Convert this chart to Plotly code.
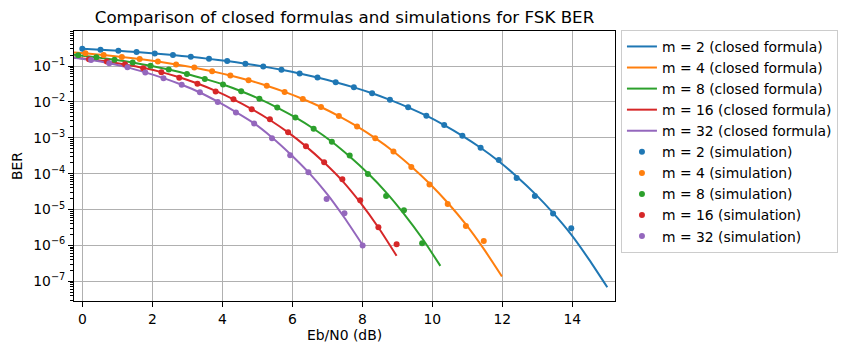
import plotly.graph_objects as go

# ---------------- data ----------------
COLORS = ["#1f77b4", "#ff7f0e", "#2ca02c", "#d62728", "#9467bd"]
M_VALUES = [2, 4, 8, 16, 32]

# closed-formula curves: Eb/N0 (dB) and BER
ebn0_m2 = [0.00, 0.52, 1.03, 1.55, 2.07, 2.59, 3.10, 3.62, 4.14, 4.66, 5.17, 5.69, 6.21, 6.72, 7.24,
           7.76, 8.28, 8.79, 9.31, 9.83, 10.34, 10.86, 11.38, 11.90, 12.41, 12.93, 13.45, 13.97, 14.48, 15.00]
ber_m2 = [0.303, 0.285, 0.265, 0.245, 0.2235, 0.202, 0.180, 0.158, 0.137, 0.116, 0.0966, 0.0784, 0.0621,
          0.0477, 0.0354, 0.0254, 0.0174, 0.0114, 0.00706, 0.00412, 0.00225, 0.00113, 5.26e-4, 2.21e-4,
          8.31e-5, 2.77e-5, 8.03e-6, 1.99e-6, 4.01e-7, 6.8e-8]

ebn0_m4 = [-0.42, 0.09, 0.61, 1.13, 1.64, 2.16, 2.68, 3.20, 3.71, 4.23, 4.75, 5.27, 5.78, 6.30, 6.82,
           7.33, 7.85, 8.37, 8.89, 9.40, 9.92, 10.44, 10.96, 11.47, 11.99]
ber_m4 = [0.2476, 0.2253, 0.2023, 0.179, 0.1556, 0.1328, 0.1107, 0.0901, 0.0711, 0.0544, 0.0400, 0.02822,
          0.01897, 0.01206, 0.00721, 0.00401, 0.00207, 9.75e-4, 4.16e-4, 1.584e-4, 5.31e-5, 1.546e-5,
          3.84e-6, 7.99e-7, 1.36e-7]

ebn0_m8 = [-0.63, -0.12, 0.40, 0.92, 1.44, 1.95, 2.47, 2.99, 3.50, 4.02, 4.54, 5.06, 5.57, 6.09, 6.61,
           7.13, 7.64, 8.16, 8.68, 9.19, 9.71, 10.23]
ber_m8 = [0.2255, 0.2004, 0.1749, 0.1495, 0.1248, 0.1013, 0.0796, 0.0602, 0.0437, 0.0305, 0.01979, 0.01216,
          0.00696, 0.00368, 0.00178, 7.72e-4, 2.99e-4, 1.02e-4, 3.02e-5, 7.58e-6, 1.58e-6, 2.69e-7]

ebn0_m16 = [-0.33, 0.19, 0.70, 1.22, 1.74, 2.26, 2.77, 3.29, 3.81, 4.32, 4.84, 5.36, 5.88, 6.39, 6.91,
            7.43, 7.94, 8.46, 8.98]
ber_m16 = [0.1758, 0.1549, 0.1334, 0.1109, 0.0891, 0.0676, 0.0484, 0.0324, 0.0202, 0.01175, 0.00631,
           0.00313, 0.00141, 5.75e-4, 2.04e-4, 6.31e-5, 1.58e-5, 3.16e-6, 5.13e-7]

ebn0_m32 = [-0.27, 0.25, 0.77, 1.29, 1.80, 2.32, 2.84, 3.36, 3.87, 4.39, 4.91, 5.42, 5.94, 6.46, 6.98,
            7.49, 8.01]
ber_m32 = [0.1726, 0.1469, 0.1194, 0.0916, 0.0664, 0.0459, 0.0300, 0.01828, 0.01012, 0.00519, 0.00251,
           0.00102, 3.55e-4, 1.10e-4, 2.82e-5, 5.89e-6, 1.02e-6]

# simulation points: Eb/N0 (dB) and BER
sim_ebn0_m2 = ebn0_m2[:28]
sim_ber_m2 = [0.303, 0.285, 0.265, 0.245, 0.2235, 0.202, 0.180, 0.158, 0.137, 0.116, 0.0966, 0.0784, 0.0621,
              0.0477, 0.0354, 0.0254, 0.0174, 0.0114, 0.00706, 0.00412, 0.00225, 0.00113, 5.26e-4,
              2.4e-4, 7.6e-5, 2.4e-5, 7.8e-6, 3.0e-6]

sim_ebn0_m4 = ebn0_m4[1:24]
sim_ber_m4 = [0.2253, 0.2023, 0.179, 0.1556, 0.1328, 0.1107, 0.0901, 0.0711, 0.0544, 0.0400, 0.02822,
              0.01897, 0.01206, 0.00721, 0.00401, 0.00207, 9.75e-4, 4.16e-4, 1.52e-4, 5.0e-5, 1.42e-5,
              3.5e-6, 1.33e-6]

sim_ebn0_m8 = ebn0_m8[1:21]
sim_ber_m8 = [0.2004, 0.1749, 0.1495, 0.1248, 0.1013, 0.0796, 0.0602, 0.0437, 0.0305, 0.01979, 0.01216,
              0.00696, 0.00368, 0.00178, 7.72e-4, 3.2e-4, 9.7e-5, 2.4e-5, 9.5e-6, 1.15e-6]

sim_ebn0_m16 = ebn0_m16[1:]
sim_ber_m16 = [0.155, 0.133, 0.111, 0.0871, 0.0668, 0.0468, 0.0320, 0.0194, 0.01178, 0.0062, 0.00327,
               0.00142, 5.77e-4, 2.07e-4, 6.93e-5, 1.80e-5, 3.19e-6, 1.07e-6]

sim_ebn0_m32 = ebn0_m32[1:]
sim_ber_m32 = [0.1469, 0.1202, 0.0918, 0.0656, 0.0453, 0.0302, 0.01845, 0.0100, 0.00506, 0.00249,
               9.64e-4, 3.24e-4, 1.09e-4, 1.95e-5, 7.83e-6, 1.0e-6]

X_TICKS = [0, 2, 4, 6, 8, 10, 12, 14]
Y_TICKS = [1e-7, 1e-6, 1e-5, 1e-4, 1e-3, 1e-2, 1e-1]
Y_TICK_TEXT = ["10<sup>\u22127</sup>", "10<sup>\u22126</sup>", "10<sup>\u22125</sup>", "10<sup>\u22124</sup>",
               "10<sup>\u22123</sup>", "10<sup>\u22122</sup>", "10<sup>\u22121</sup>"]

curves = [(ebn0_m2, ber_m2), (ebn0_m4, ber_m4), (ebn0_m8, ber_m8), (ebn0_m16, ber_m16), (ebn0_m32, ber_m32)]
sims = [(sim_ebn0_m2, sim_ber_m2), (sim_ebn0_m4, sim_ber_m4), (sim_ebn0_m8, sim_ber_m8),
        (sim_ebn0_m16, sim_ber_m16), (sim_ebn0_m32, sim_ber_m32)]

# ---------------- figure ----------------
FONT = "DejaVu Sans"
FS = 13.9      # 10 pt at 100 dpi
FS_TITLE = 16.7  # 12 pt at 100 dpi
fig = go.Figure()
for m, col, (x, y) in zip(M_VALUES, COLORS, curves):
    fig.add_trace(go.Scatter(x=x, y=y, mode="lines", name=f"m = {m} (closed formula)",
                             line=dict(color=col, width=2, shape="spline", smoothing=0.6)))
for m, col, (x, y) in zip(M_VALUES, COLORS, sims):
    fig.add_trace(go.Scatter(x=x, y=y, mode="markers", name=f"m = {m} (simulation)",
                             marker=dict(color=col, size=6, line=dict(width=0))))

axis_common = dict(showline=True, mirror=True, linecolor="black", linewidth=1,
                   ticks="outside", ticklen=5, tickwidth=1, tickcolor="black",
                   showgrid=True, gridcolor="#b0b0b0", gridwidth=1, zeroline=False,
                   tickfont=dict(family=FONT, size=FS, color="black"))

fig.update_layout(
    width=850, height=353,
    margin=dict(l=74, r=235, t=31, b=52, pad=0),
    paper_bgcolor="white", plot_bgcolor="white",
    font=dict(family=FONT, size=FS, color="black"),
    title=dict(text="Comparison of closed formulas and simulations for FSK BER",
               font=dict(family=FONT, size=FS_TITLE, color="black"),
               x=0.5, xref="paper", xanchor="center",
               y=1 - 17 / 353, yref="container", yanchor="middle"),
    xaxis=dict(range=[-0.237, 15.22], tickmode="array", tickvals=X_TICKS, **axis_common),
    yaxis=dict(type="log", range=[-7.5497, -0.0245], tickmode="array", tickvals=Y_TICKS,
               ticktext=Y_TICK_TEXT,
               minor=dict(ticks="outside", ticklen=3, tickcolor="black", tickwidth=1,
                          dtick="D1", showgrid=False),
               **axis_common),
    legend=dict(x=1.011, y=1.004, xanchor="left", yanchor="top", maxheight=330,
                bordercolor="#cccccc", borderwidth=1, bgcolor="rgba(255,255,255,0.8)",
                font=dict(family=FONT, size=FS, color="black"), tracegroupgap=0),
    showlegend=True,
    annotations=[
        dict(text="Eb/N0 (dB)", xref="paper", yref="paper", x=0.5, y=-(335 - 301) / 270,
             xanchor="center", yanchor="middle", showarrow=False,
             font=dict(family=FONT, size=FS, color="black")),
        dict(text="BER", xref="paper", yref="paper", x=(17 - 74) / 541, y=0.5,
             xanchor="center", yanchor="middle", showarrow=False, textangle=-90,
             font=dict(family=FONT, size=FS, color="black")),
    ],
)

fig.write_html("out.html")
